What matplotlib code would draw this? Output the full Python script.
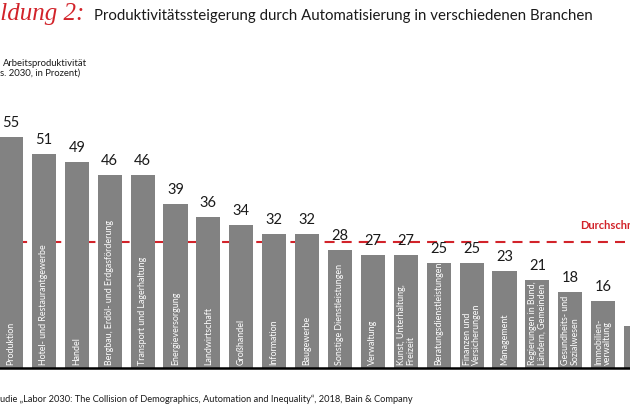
import numpy as np
import matplotlib.pyplot as plt

plt.rcParams['font.family'] = ['Lato', 'DejaVu Sans']

# data (last bar's name is cut off in the source)
branchen = ['Produktion', 'Hotel- und Restaurantgewerbe', 'Handel',
            'Bergbau, Erdöl- und Erdgasförderung', 'Transport und Lagerhaltung',
            'Energieversorgung', 'Landwirtschaft', 'Großhandel', 'Information',
            'Baugewerbe', 'Sonstige Dienstleistungen', 'Verwaltung',
            'Kunst, Unterhaltung,\nFreizeit', 'Beratungsdienstleistungen',
            'Finanzen und\nVersicherungen', 'Management',
            'Regierungen in Bund,\nLändern, Gemeinden', 'Gesundheits- und\nSozialwesen',
            'Immobilien-\nverwaltung', '']
werte = [55, 51, 49, 46, 46, 39, 36, 34, 32, 32, 28, 27, 27, 25, 25, 23, 21, 18, 16, 10]
durchschnitt = 30

grau = '#828282'
rot = '#d2232a'

fig = plt.figure(figsize=(6.3, 4.12), dpi=100)
ax = fig.add_axes([0, 44/412, 1, 252/412])

x = np.arange(len(werte))
ax.bar(x, werte, width=0.73, color=grau, zorder=2)

# value labels above bars (last one is outside the picture)
for xi, v in zip(x[:-1], werte[:-1]):
    ax.annotate(str(v), (xi, v), xytext=(0, 5), textcoords='offset points',
                ha='center', va='bottom', fontsize=10.5, color='#1a1a1a')

# category names inside bars
for xi, name in zip(x, branchen):
    if name:
        ax.text(xi, 0.7, name, rotation=90, ha='center', va='bottom',
                multialignment='left', fontsize=6.4, color='white', zorder=3,
                linespacing=1.0)

# average line
ax.axhline(durchschnitt, color=rot, lw=1.5, dashes=(4.8, 3.4), zorder=1)
ax.text((580-11)/32.9, 34, 'Durchschnitt', color=rot, fontsize=8,
        fontweight='bold', ha='left', va='center')

ax.set_xlim(-11/32.9, (630-11)/32.9)
ax.set_ylim(0, 60)
for s in ['top', 'left', 'right']:
    ax.spines[s].set_visible(False)
ax.spines['bottom'].set_linewidth(1.8)
ax.spines['bottom'].set_color('black')
ax.set_xticks([]); ax.set_yticks([])

# titles
fig.text(85/630, 1-20/412, 'Abbildung 2:', ha='right', va='baseline',
         color=rot, fontsize=18, family='Liberation Serif', style='italic')
fig.text(94/630, 1-20/412, 'Produktivitätssteigerung durch Automatisierung in verschiedenen Branchen',
         ha='left', va='baseline', fontsize=10.8, color='#1a1a1a')
fig.text(3/630, 1-66/412, 'Arbeitsproduktivität', ha='left', va='baseline',
         fontsize=6.8, color='#1a1a1a')
fig.text(0, 1-76/412, 's. 2030, in Prozent)', ha='left', va='baseline',
         fontsize=6.8, color='#1a1a1a')
fig.text(0, 1-402/412, 'udie „Labor 2030: The Collision of Demographics, Automation and Inequality“, 2018, Bain & Company',
         ha='left', va='baseline', fontsize=6.7, color='#1a1a1a')

fig.savefig('out.png', dpi=100)
